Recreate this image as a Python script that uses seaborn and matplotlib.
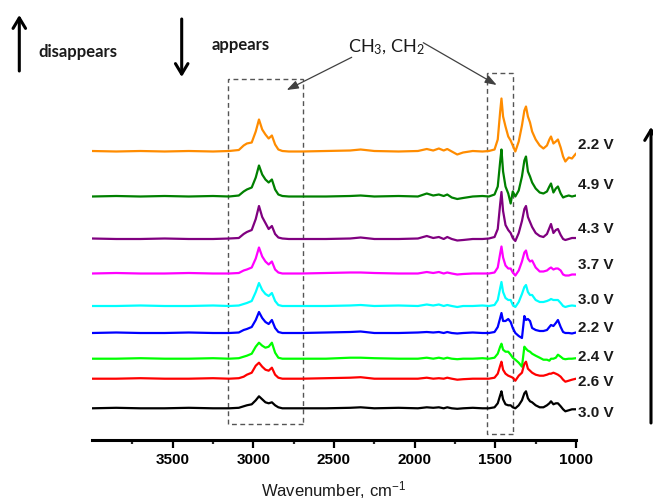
import numpy as np
import pandas as pd
import matplotlib
matplotlib.use("Agg")
import matplotlib.pyplot as plt
from matplotlib.patches import Rectangle, FancyArrowPatch
import seaborn as sns

sns.set_theme(style="white")
plt.rcParams["font.family"] = ["Liberation Sans", "DejaVu Sans"]
plt.rcParams["mathtext.default"] = "regular"

# Wavenumber grid shared by all spectra (cm^-1)
wavenumber = [
    4000, 3850, 3700, 3550, 3400, 3250, 3150,
    3090, 3060, 3040, 3010, 2985, 2965, 2945, 2925, 2905, 2885, 2865, 2845, 2820, 2780,
    2700, 2550, 2400, 2335, 2250, 2100, 1980, 1925, 1885, 1850, 1820, 1798, 1770, 1736,
    1700, 1640, 1580, 1540,
    1505, 1485, 1470, 1462, 1452, 1437, 1420, 1405, 1392, 1376, 1355, 1335, 1320, 1310,
    1298, 1285, 1272, 1250, 1225, 1202, 1180, 1165, 1155, 1140, 1125, 1112, 1095, 1080,
    1066, 1045, 1025, 1000,
]

# Absorbance of each spectrum (arbitrary units, before stacking)
abs_orange_22 = [
    0.5, 0, 0.5, 0, 0.5, 0, 0.5,
    1.5, 6, 8, 9, 20, 32, 22, 17, 13, 16, 7, 2, 0.5, 0,
    0, 0.5, 1, 2, 0.5, 0, 0.5, 2.5, 1, 3, 1, 2.5, 0, -3,
    -1, 0.5, 0, 0.5,
    2, 12, 40, 53, 35, 25, 15, 11, 6, 0, 10, 26, 41, 45,
    35, 29, 20, 12, 6, 3, 6, 12, 15, 8, 10, 12, 4, -5,
    -10, -6, -7, -2,
]
abs_green_49 = [
    0, 0.5, 0, 0.5, 0, 0.5, 0,
    1, 5, 7, 9, 19, 31, 22, 17, 14, 17, 7, 2, 0.5, 0,
    0, 0, 0.5, 1, 0, 0.5, 0, 3, 1, 2, 0.5, 2, -1, -2.5,
    -1.5, 0, 0.5, 0,
    2, 10, 35, 47, 25, 10, 3, -7, 5, 0, 6, 20, 36, 40,
    25, 20, 14, 8, 4, 3, 5, 10, 13, 4, 8, 10, 3, -1,
    0, 1, 0, 1,
]
abs_purple_43 = [
    0.5, 0, 0, 0.5, 0, 0, 0.5,
    1, 5, 7, 9, 20, 33, 22, 16, 10, 13, 5, 1.5, 0.5, 0,
    0, 0, 0.5, 1.5, 0, 0, 0.5, 3, 1, 2, 0, 2, 0, -1.5,
    -1, 0, 0, 0.5,
    2, 10, 35, 47, 28, 14, 9, 6, 1, -2, 6, 18, 30, 33,
    22, 17, 12, 6, 3, 2, 5, 11, 15, 6, 9, 10, 4, 0,
    -1, 0, 1, 1,
]
abs_magenta_37 = [
    0, 0.5, 0, 0, 0.5, 0, 0,
    0.5, 3, 4, 6, 15, 26, 17, 12, 9, 12, 4, 1, 0, 0,
    0, 0.5, 1, 1, 0.5, 0, 0, 1.5, 0.5, 1.5, 0, 1, 0, -1,
    -0.5, 0, 0, 0,
    1, 6, 20, 27, 16, 8, 5, 5, 1, -2, 3, 12, 21, 23,
    15, 12, 13, 6, 2, 2, 3, 5, 6, 4, 5, 5, 3, -1,
    -2, -2, -1, -1,
]
abs_cyan_30 = [
    0, 0, 0.5, 0, 0, 0.5, 0,
    0.5, 2, 3, 5, 14, 23, 16, 12, 10, 13, 5, 1, 0, 0,
    0, 0, 0.5, 1, 0, 0.5, 0, 1.5, 0.5, 1.5, 0, 1, 0, -1,
    0, 0, 0.5, 0,
    1, 6, 18, 24, 14, 8, 6, 6, 1, -1, 4, 12, 19, 21,
    14, 11, 11, 6, 4, 4, 5, 6, 7, 6, 6, 6, 3, 0,
    -1, 0, 0.5, 0,
]
abs_blue_22 = [
    0, 0.5, 0, 0, 0.5, 0, 0,
    0.5, 3, 4, 6, 13, 21, 15, 11, 9, 13, 5, 1, 0, 0,
    0, 0.5, 1, 1.5, 0, 0, 0.5, 1, 0.5, 1, 0, 1, 0, -0.5,
    0, 0.5, 0, 0,
    1, 6, 15, 20, 12, 12, 14, 11, 5, 0, -3, -5, 17, 13,
    14, 12, 5, 3, 2, 2, 3, 6, 8, 7, 10, 13, 6, 1,
    0, 0, -0.5, 0.5,
]
abs_lime_24 = [
    0, 0, 0.5, 0, 0, 0.5, 0,
    0.5, 2, 3, 5, 12, 16, 13, 11, 12, 16, 6, 1, 0, 0,
    0, 0, 1, 1, 0.5, 0, 0, 1, 0, 1, 0, 1, 0, -0.5,
    0, 0, 0.5, 0,
    1, 5, 12, 15, 9, 7, 7, 4, 1, -1, -4, -8, 12, 10,
    8, 7, 5, 3, 1, -1, -1, -2, 0, 0, 1, 4, 2, 0,
    -0.5, 0, 0, 0.5,
]
abs_red_26 = [
    0, 0, 0.5, 0, 0, 0.5, 0,
    0.5, 2, 4, 6, 13, 16, 12, 9, 8, 11, 4, 1, 0, 0,
    0, 0.5, 1, 1.5, 0, 0, 0, 1, 0, 0.5, 0, 1, 0, -1,
    -0.5, 0, 0, 0,
    1, 5, 13, 17, 9, 5, 3, 2, 1, -2, 3, 6, 15, 17,
    10, 8, 6, 4, 3, 3, 4, 5, 5, 6, 5, 4, 2, -1,
    -3, -2, -1, 0,
]
abs_black_30 = [
    0, 0.5, 0, 0, 0.5, 0, 0,
    0.5, 2, 3, 4, 8, 12, 9, 6, 5, 6, 3, 1, 0, 0,
    0, 0, 0.5, 1, 0, 0.5, 0, 1, 0.5, 1, 0, 1, 0, -0.5,
    0, 0.5, 0, 0,
    1, 5, 13, 17, 9, 4, 3, 3, 1, 0, 3, 8, 15, 17,
    10, 7, 6, 3, 1, 1, 3, 5, 7, 4, 5, 5, 2, -1,
    -3, -2, -1, -1,
]

series_labels = ["2.2 V", "4.9 V", "4.3 V", "3.7 V", "3.0 V",
                 "2.2 V", "2.4 V", "2.6 V", "3.0 V"]
spectra = [abs_orange_22, abs_green_49, abs_purple_43, abs_magenta_37,
           abs_cyan_30, abs_blue_22, abs_lime_24, abs_red_26, abs_black_30]

# Vertical stacking offsets and label heights
offsets = [288.5, 243.5, 201, 166.5, 134, 107, 81.3, 61.3, 31.7]
label_y = [295, 255, 211, 175, 140, 112, 83, 58, 27]
colors = ["#ff8c00", "#008000", "#800080", "#ff00ff", "#00ffff",
          "#0000ff", "#00ff00", "#ff0000", "#000000"]

rows = []
for i, (spec, off) in enumerate(zip(spectra, offsets)):
    for w, a in zip(wavenumber, spec):
        rows.append({"wn": w, "y": a + off, "trace": i})
df = pd.DataFrame(rows)

W, H = 653, 500
fig = plt.figure(figsize=(W / 100, H / 100), dpi=100)
ax = fig.add_axes([92 / W, 60 / H, 484 / W, 420 / H])

sns.lineplot(data=df, x="wn", y="y", hue="trace", palette=colors,
             estimator=None, sort=False, legend=False, linewidth=1.6, ax=ax)

ax.set_xlim(4000, 1000)
ax.set_ylim(0, 420)
for s in ["left", "top", "right"]:
    ax.spines[s].set_visible(False)
ax.spines["bottom"].set_linewidth(2.2)
ax.spines["bottom"].set_color("black")
ax.set_yticks([])
ax.set_ylabel("")
ax.set_xticks([3500, 3000, 2500, 2000, 1500, 1000])
ax.set_xticks([3750, 3250, 2750, 2250, 1750, 1250], minor=True)
ax.tick_params(axis="x", which="major", direction="out", length=5.5, width=1.6,
               bottom=True, pad=3.5, labelsize=11, colors="black")
ax.tick_params(axis="x", which="minor", direction="out", length=3, width=1.6, bottom=True)
for t in ax.get_xticklabels():
    t.set_fontweight("bold")
ax.set_xlabel("Wavenumber, cm$^{-1}$", fontsize=12, color="#1a1a1a")
ax.xaxis.set_label_coords(0.5, -0.092)

# Voltage labels at the right end of each spectrum
for lab, ly in zip(series_labels, label_y):
    ax.text(985, ly, lab, ha="left", va="center", fontsize=11,
            fontweight="bold", color="#1a1a1a", clip_on=False)

# Dashed boxes around the CH3/CH2 bands
box_kw = dict(fill=False, edgecolor="#555555", linewidth=1.0,
              linestyle=(0, (3.5, 2.5)), clip_on=False)
ax.add_patch(Rectangle((2690, 16), 470, 345, **box_kw))
ax.add_patch(Rectangle((1390, 6), 160, 361, **box_kw))


def fp(x, y):
    return (x / W, 1 - y / H)


def arrow(p0, p1, lw, color, style, scale):
    fig.add_artist(FancyArrowPatch(fp(*p0), fp(*p1), transform=fig.transFigure,
                                   arrowstyle=style, mutation_scale=scale,
                                   linewidth=lw, color=color, shrinkA=0, shrinkB=0))


thick = "->,head_length=0.5,head_width=0.3"
arrow((19.3, 71), (19.3, 15), 2.2, "black", thick, 15)
arrow((181.7, 19), (181.7, 77), 2.2, "black", thick, 15)
arrow((651, 423), (651, 127), 2.2, "black", thick, 15)

thin = "-|>,head_length=0.7,head_width=0.25"
arrow((351.7, 57.3), (286.7, 90), 0.9, "#404040", thin, 10)
arrow((423.3, 42.7), (496.7, 85), 0.9, "#404040", thin, 10)

fig.text(*fp(38, 52), "disappears", ha="left", va="center", fontsize=12,
         fontweight="bold", family="Lato", color="#1a1a1a")
fig.text(*fp(212, 45), "appears", ha="left", va="center", fontsize=12,
         fontweight="bold", family="Lato", color="#1a1a1a")
fig.text(*fp(386, 47), "CH$_3$, CH$_2$", ha="center", va="center", fontsize=13,
         family="Lato", color="#1a1a1a")

fig.savefig("out.png", dpi=100)
